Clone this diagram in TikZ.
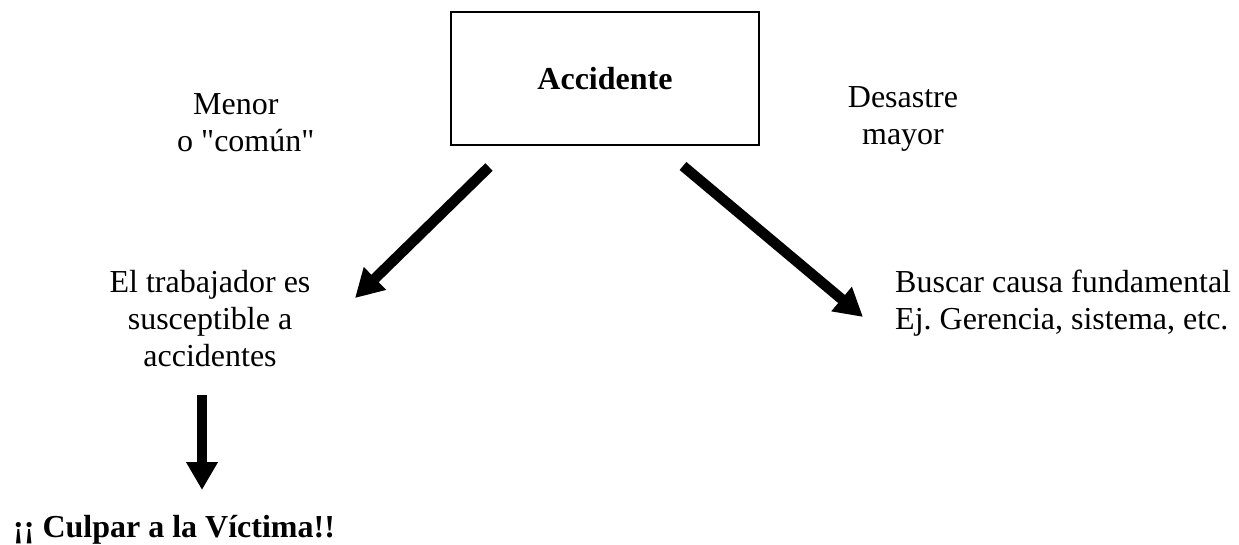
\documentclass[tikz,border=0pt]{standalone}
\usepackage{fontspec}
\setmainfont{Liberation Serif}
\usetikzlibrary{arrows.meta}
\frenchspacing
\begin{document}
\begin{tikzpicture}[x=1pt,y=-1pt,
  txt/.style={font=\fontsize{32}{37}\selectfont, inner sep=0pt},
  bigarrow/.style={line width=10.5pt, -{Triangle[width=30pt,length=28pt]}},
]
\useasboundingbox (0,0) rectangle (1239,545);

% central box
\node[draw, line width=1.6pt, minimum width=308pt, minimum height=133pt, inner sep=0pt,
      font=\fontsize{32}{37}\selectfont\bfseries] (acc) at (605,78.5) {Accidente};

% branch labels
\node[txt, anchor=base west] (menor) at (177,115)
  {\begin{tabular}[t]{@{}l@{}}\hspace*{16pt}Menor\\o \textquotedbl común\textquotedbl\end{tabular}};
\node[txt, anchor=base] (desastre) at (903,108)
  {\begin{tabular}[t]{@{}c@{}}Desastre\\mayor\end{tabular}};

% outcomes
\node[txt, anchor=base] (trab) at (210,292)
  {\begin{tabular}[t]{@{}c@{}}El trabajador es\\susceptible a\\accidentes\end{tabular}};
\node[txt, anchor=base west] (causa) at (895,292)
  {\begin{tabular}[t]{@{}l@{}}Buscar causa fundamental\\Ej. Gerencia, sistema, etc.\end{tabular}};
\node[txt, font=\fontsize{32}{37}\selectfont\bfseries, anchor=base west] (culpa) at (13,537)
  {¡¡ Culpar a la Víctima!!};

% arrow end points
\coordinate (l0) at (489,167);
\coordinate (l1) at (355,298);
\coordinate (r0) at (683,166);
\coordinate (r1) at (863,317);
\coordinate (d0) at (202,395);
\coordinate (d1) at (202,490);

\draw[bigarrow] (l0) -- (l1);
\draw[bigarrow] (r0) -- (r1);
\draw[bigarrow] (d0) -- (d1);
\end{tikzpicture}
\end{document}
